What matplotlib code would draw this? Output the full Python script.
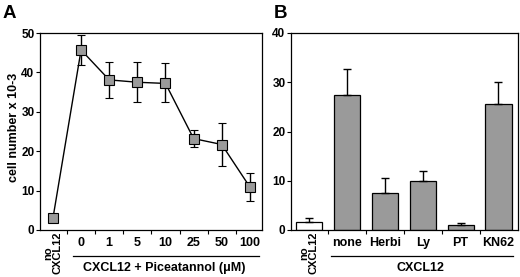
import matplotlib
matplotlib.use("Agg")
import matplotlib.pyplot as plt
from matplotlib.transforms import blended_transform_factory
import numpy as np

plt.rcParams['font.family'] = ['Liberation Sans', 'DejaVu Sans']
plt.rcParams['font.weight'] = 'bold'

# Panel A data
a_labels = ["0", "1", "5", "10", "25", "50", "100"]
a_vals = [3.0, 45.7, 38.1, 37.5, 37.2, 23.2, 21.7, 10.9]
a_err_hi = [3.0, 49.5, 42.6, 42.6, 42.3, 25.4, 27.1, 14.4]
a_err_lo = [3.0, 41.9, 33.6, 32.6, 32.6, 21.1, 16.2, 7.4]

# Panel B data
b_labels = ["none", "Herbi", "Ly", "PT", "KN62"]
b_vals = [1.7, 27.5, 7.6, 10.0, 1.0, 25.6]
b_err_hi = [2.5, 32.7, 10.5, 12.0, 1.4, 30.1]

W, H = 520, 277
fig = plt.figure(figsize=(W / 100, H / 100), dpi=100)

def ax_rect(l, r, t, b):
    return [l / W, 1 - b / H, (r - l) / W, (b - t) / H]

fs = 9
yfs = 8.5
gray = "#9a9a9a"

# ---------- Panel A ----------
axA = fig.add_axes(ax_rect(40, 262, 33, 230))
xa = np.arange(len(a_vals))
yerr_a = [np.array(a_vals) - np.array(a_err_lo), np.array(a_err_hi) - np.array(a_vals)]
axA.errorbar(xa, a_vals, yerr=yerr_a, color="black", lw=1.0, elinewidth=1.0,
             capsize=2.9, capthick=1.0, marker="s", markersize=6.5,
             markerfacecolor=gray, markeredgecolor="black", markeredgewidth=0.8, zorder=3)
axA.set_xlim(-0.46, 7.43)
axA.set_ylim(0, 50)
axA.set_yticks([0, 10, 20, 30, 40, 50])
axA.set_xticks(xa[1:])
axA.set_xticklabels(a_labels, fontsize=fs, fontweight="bold")
axA.set_xticks(np.arange(0.5, 7, 1), minor=True)
axA.tick_params(axis="x", which="major", length=0, pad=5)
axA.tick_params(axis="x", which="minor", length=3, width=0.8, direction="out")
axA.tick_params(axis="y", length=3, width=0.8, labelsize=yfs, pad=1)
for lab in axA.get_yticklabels():
    lab.set_fontweight("bold")
for s in axA.spines.values():
    s.set_linewidth(0.9)
axA.set_ylabel("cell number x 10-3", fontsize=fs, fontweight="bold")
axA.yaxis.set_label_coords(-20 / 222, 0.52)

trA = blended_transform_factory(axA.transData, fig.transFigure)
axA.text(0, 1 - 232 / H, "no\nCXCL12", transform=trA, rotation=90, ha="center",
         va="top", fontsize=fs - 1, fontweight="bold", linespacing=0.85)
fig.add_artist(plt.Line2D([73.3 / W, 259 / W], [1 - 256 / H, 1 - 256 / H],
                          color="black", lw=0.9))
fig.text(164 / W, 1 - 268 / H, "CXCL12 + Piceatannol (μM)", ha="center", va="center",
         fontsize=fs, fontweight="bold")
fig.text(3 / W, 1 - 14 / H, "A", ha="left", va="center", fontsize=13.5, fontweight="bold")

# ---------- Panel B ----------
axB = fig.add_axes(ax_rect(291, 518, 33, 230))
xb = np.arange(len(b_vals))
colors = ["white"] + [gray] * (len(b_vals) - 1)
axB.bar(xb, b_vals, width=0.69, color=colors, edgecolor="black", linewidth=0.9, zorder=2)
yerr_b = [np.zeros(len(b_vals)), np.array(b_err_hi) - np.array(b_vals)]
axB.errorbar(xb, b_vals, yerr=yerr_b, fmt="none", ecolor="black", elinewidth=1.0,
             capsize=2.9, capthick=1.0, zorder=3)
axB.set_xlim(-0.475, 5.515)
axB.set_ylim(0, 40)
axB.set_yticks([0, 10, 20, 30, 40])
axB.set_xticks(xb[1:])
axB.set_xticklabels(b_labels, fontsize=fs, fontweight="bold")
axB.set_xticks(np.arange(0.5, 5, 1), minor=True)
axB.tick_params(axis="x", which="major", length=0, pad=5)
axB.tick_params(axis="x", which="minor", length=3, width=0.8, direction="out")
axB.tick_params(axis="y", length=3, width=0.8, labelsize=yfs, pad=1)
for lab in axB.get_yticklabels():
    lab.set_fontweight("bold")
for s in axB.spines.values():
    s.set_linewidth(0.9)

trB = blended_transform_factory(axB.transData, fig.transFigure)
axB.text(0, 1 - 232 / H, "no\nCXCL12", transform=trB, rotation=90, ha="center",
         va="top", fontsize=fs - 1, fontweight="bold", linespacing=0.85)
fig.add_artist(plt.Line2D([331 / W, 513 / W], [1 - 256 / H, 1 - 256 / H],
                          color="black", lw=0.9))
fig.text(420 / W, 1 - 268 / H, "CXCL12", ha="center", va="center",
         fontsize=fs, fontweight="bold")
fig.text(274 / W, 1 - 13 / H, "B", ha="left", va="center", fontsize=13.5, fontweight="bold")

fig.savefig("out.png", dpi=100)
